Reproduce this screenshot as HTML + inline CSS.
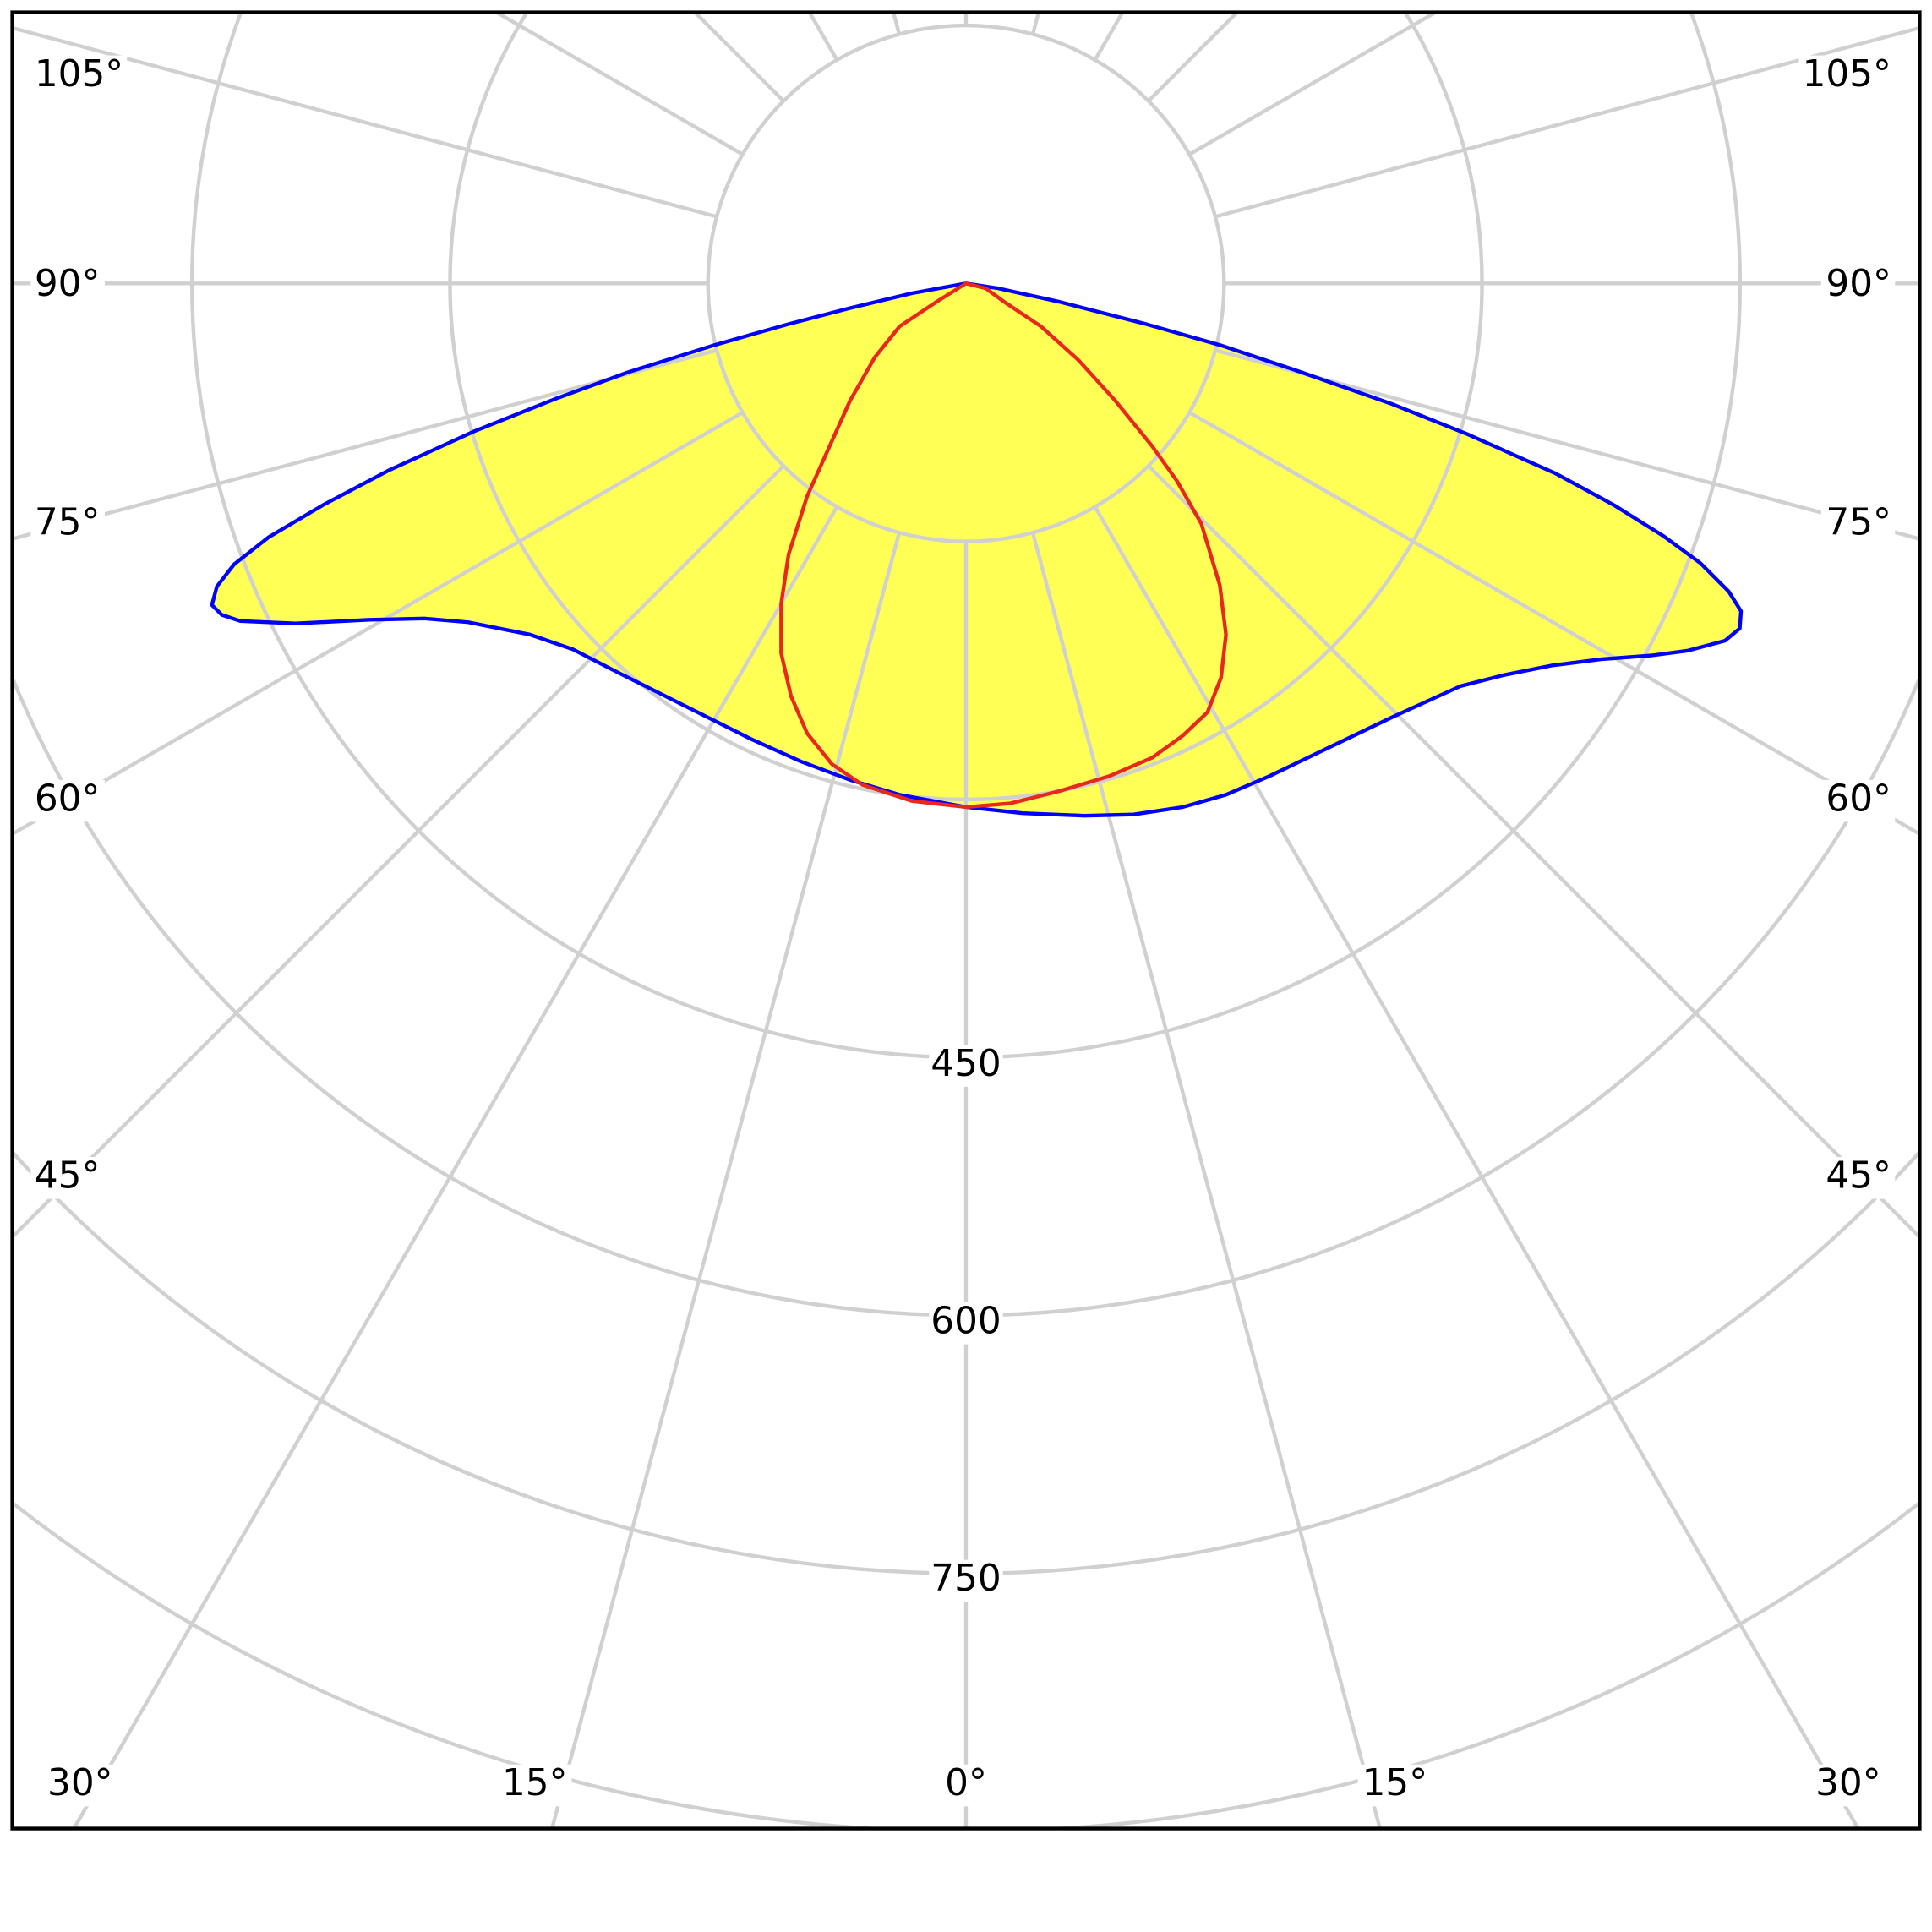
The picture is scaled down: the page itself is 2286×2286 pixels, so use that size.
<!DOCTYPE html>
<html><head><meta charset="utf-8"><style>html,body{margin:0;padding:0;background:#fff;width:2286px;height:2286px;overflow:hidden}svg{display:block}</style></head><body>
<svg width="2286" height="2286" viewBox="0 0 1568 1568" xmlns="http://www.w3.org/2000/svg">
<defs><clipPath id="c"><rect x="10" y="10" width="1548" height="1474"/></clipPath></defs>
<rect width="1568" height="1568" fill="#fff"/>
<g clip-path="url(#c)">
<path d="M784,230 L740,238 L690,250 L640,263 L580,280 L510,302 L450,324 L385,350 L315,382 L262,410 L218,436 L190,458 L176,476 L172,491 L180,499 L195,504 L240,506 L300,503 L345,502 L380,505 L430,515 L465,527 L500,545 L540,565 L570,580 L610,600 L650,618 L690,633 L730,645 L784,655 L830,660 L880,662 L920,661 L960,655 L995,645 L1030,630 L1080,606 L1130,582 L1185,557 L1220,548 L1260,540 L1300,535 L1340,532 L1370,528 L1400,520 L1412,510 L1413,496 L1403,480 L1380,457 L1350,435 L1310,410 L1262,384 L1190,352 L1130,328 L1050,300 L990,280 L930,263 L860,245 L810,234 Z" fill="#ffff55"/>
<g stroke="#d0d0d0" stroke-width="3" fill="none">
<circle cx="784" cy="230" r="209.4"/><circle cx="784" cy="230" r="418.8"/><circle cx="784" cy="230" r="628.2"/><circle cx="784" cy="230" r="837.6"/><circle cx="784" cy="230" r="1047"/><circle cx="784" cy="230" r="1256.4"/>
<line x1="784" y1="439.4" x2="784" y2="2230"/>
<line x1="838.2" y1="432.3" x2="1301.6" y2="2161.8"/>
<line x1="888.7" y1="411.3" x2="1784" y2="1962"/>
<line x1="932.1" y1="378.1" x2="2198.2" y2="1644.2"/>
<line x1="965.3" y1="334.7" x2="2516" y2="1230"/>
<line x1="986.3" y1="284.2" x2="2715.8" y2="747.6"/>
<line x1="993.4" y1="230" x2="2784" y2="230"/>
<line x1="986.3" y1="175.8" x2="2715.8" y2="-287.6"/>
<line x1="965.3" y1="125.3" x2="2516" y2="-770"/>
<line x1="932.1" y1="81.9" x2="2198.2" y2="-1184.2"/>
<line x1="888.7" y1="48.7" x2="1784" y2="-1502"/>
<line x1="838.2" y1="27.7" x2="1301.6" y2="-1701.8"/>
<line x1="784" y1="20.6" x2="784" y2="-1770"/>
<line x1="729.8" y1="432.3" x2="266.4" y2="2161.8"/>
<line x1="679.3" y1="411.3" x2="-216" y2="1962"/>
<line x1="635.9" y1="378.1" x2="-630.2" y2="1644.2"/>
<line x1="602.7" y1="334.7" x2="-948" y2="1230"/>
<line x1="581.7" y1="284.2" x2="-1147.8" y2="747.6"/>
<line x1="574.6" y1="230" x2="-1216" y2="230"/>
<line x1="581.7" y1="175.8" x2="-1147.8" y2="-287.6"/>
<line x1="602.7" y1="125.3" x2="-948" y2="-770"/>
<line x1="635.9" y1="81.9" x2="-630.2" y2="-1184.2"/>
<line x1="679.3" y1="48.7" x2="-216" y2="-1502"/>
<line x1="729.8" y1="27.7" x2="266.4" y2="-1701.8"/>
</g>
<path d="M784,230 L740,238 L690,250 L640,263 L580,280 L510,302 L450,324 L385,350 L315,382 L262,410 L218,436 L190,458 L176,476 L172,491 L180,499 L195,504 L240,506 L300,503 L345,502 L380,505 L430,515 L465,527 L500,545 L540,565 L570,580 L610,600 L650,618 L690,633 L730,645 L784,655 L830,660 L880,662 L920,661 L960,655 L995,645 L1030,630 L1080,606 L1130,582 L1185,557 L1220,548 L1260,540 L1300,535 L1340,532 L1370,528 L1400,520 L1412,510 L1413,496 L1403,480 L1380,457 L1350,435 L1310,410 L1262,384 L1190,352 L1130,328 L1050,300 L990,280 L930,263 L860,245 L810,234 Z" fill="none" stroke="#0000ff" stroke-width="3" stroke-linejoin="round"/>
<path d="M784,230 L760,245 L730,265 L710,290 L690,325 L672,365 L655,403 L640,450 L634,490 L634,530 L642,565 L655,595 L675,620 L700,637 L740,650 L784,655 L820,652 L860,642 L900,630 L935,615 L960,597 L980,578 L991,550 L995,515 L990,475 L975,425 L955,390 L935,362 L905,325 L875,292 L845,265 L815,245 L800,234 Z" fill="none" stroke="#e8281e" stroke-width="3" stroke-linejoin="round"/>
</g>
<g fill="#fff">
<rect x="25" y="45" width="78" height="34"/><rect x="1460" y="45" width="78" height="34"/>
<rect x="25" y="215" width="60" height="34"/><rect x="1478" y="215" width="60" height="34"/>
<rect x="25" y="409" width="60" height="34"/><rect x="1478" y="409" width="60" height="34"/>
<rect x="25" y="633" width="60" height="34"/><rect x="1478" y="633" width="60" height="34"/>
<rect x="25" y="939" width="60" height="34"/><rect x="1478" y="939" width="60" height="34"/>
<rect x="35" y="1432" width="60" height="34"/><rect x="404" y="1432" width="60" height="34"/><rect x="763" y="1432" width="42" height="34"/><rect x="1102" y="1432" width="60" height="34"/><rect x="1470" y="1432" width="60" height="34"/>
<rect x="754" y="848" width="60" height="34"/><rect x="754" y="1057" width="60" height="34"/><rect x="754" y="1266" width="60" height="34"/>
</g>
<g font-family="'DejaVu Sans','Liberation Sans',sans-serif" font-size="30" fill="#000">
<text x="28" y="70">105°</text><text x="1535" y="70" text-anchor="end">105°</text>
<text x="28" y="240">90°</text><text x="1535" y="240" text-anchor="end">90°</text>
<text x="28" y="434">75°</text><text x="1535" y="434" text-anchor="end">75°</text>
<text x="28" y="658">60°</text><text x="1535" y="658" text-anchor="end">60°</text>
<text x="28" y="964">45°</text><text x="1535" y="964" text-anchor="end">45°</text>
<g text-anchor="middle">
<text x="65" y="1457">30°</text><text x="434" y="1457">15°</text><text x="784" y="1457">0°</text><text x="1132" y="1457">15°</text><text x="1500" y="1457">30°</text>
<text x="784" y="873">450</text><text x="784" y="1082">600</text><text x="784" y="1291">750</text>
</g>
</g>
<rect x="10" y="10" width="1548" height="1474" fill="none" stroke="#000" stroke-width="3"/>
</svg>
</body></html>
